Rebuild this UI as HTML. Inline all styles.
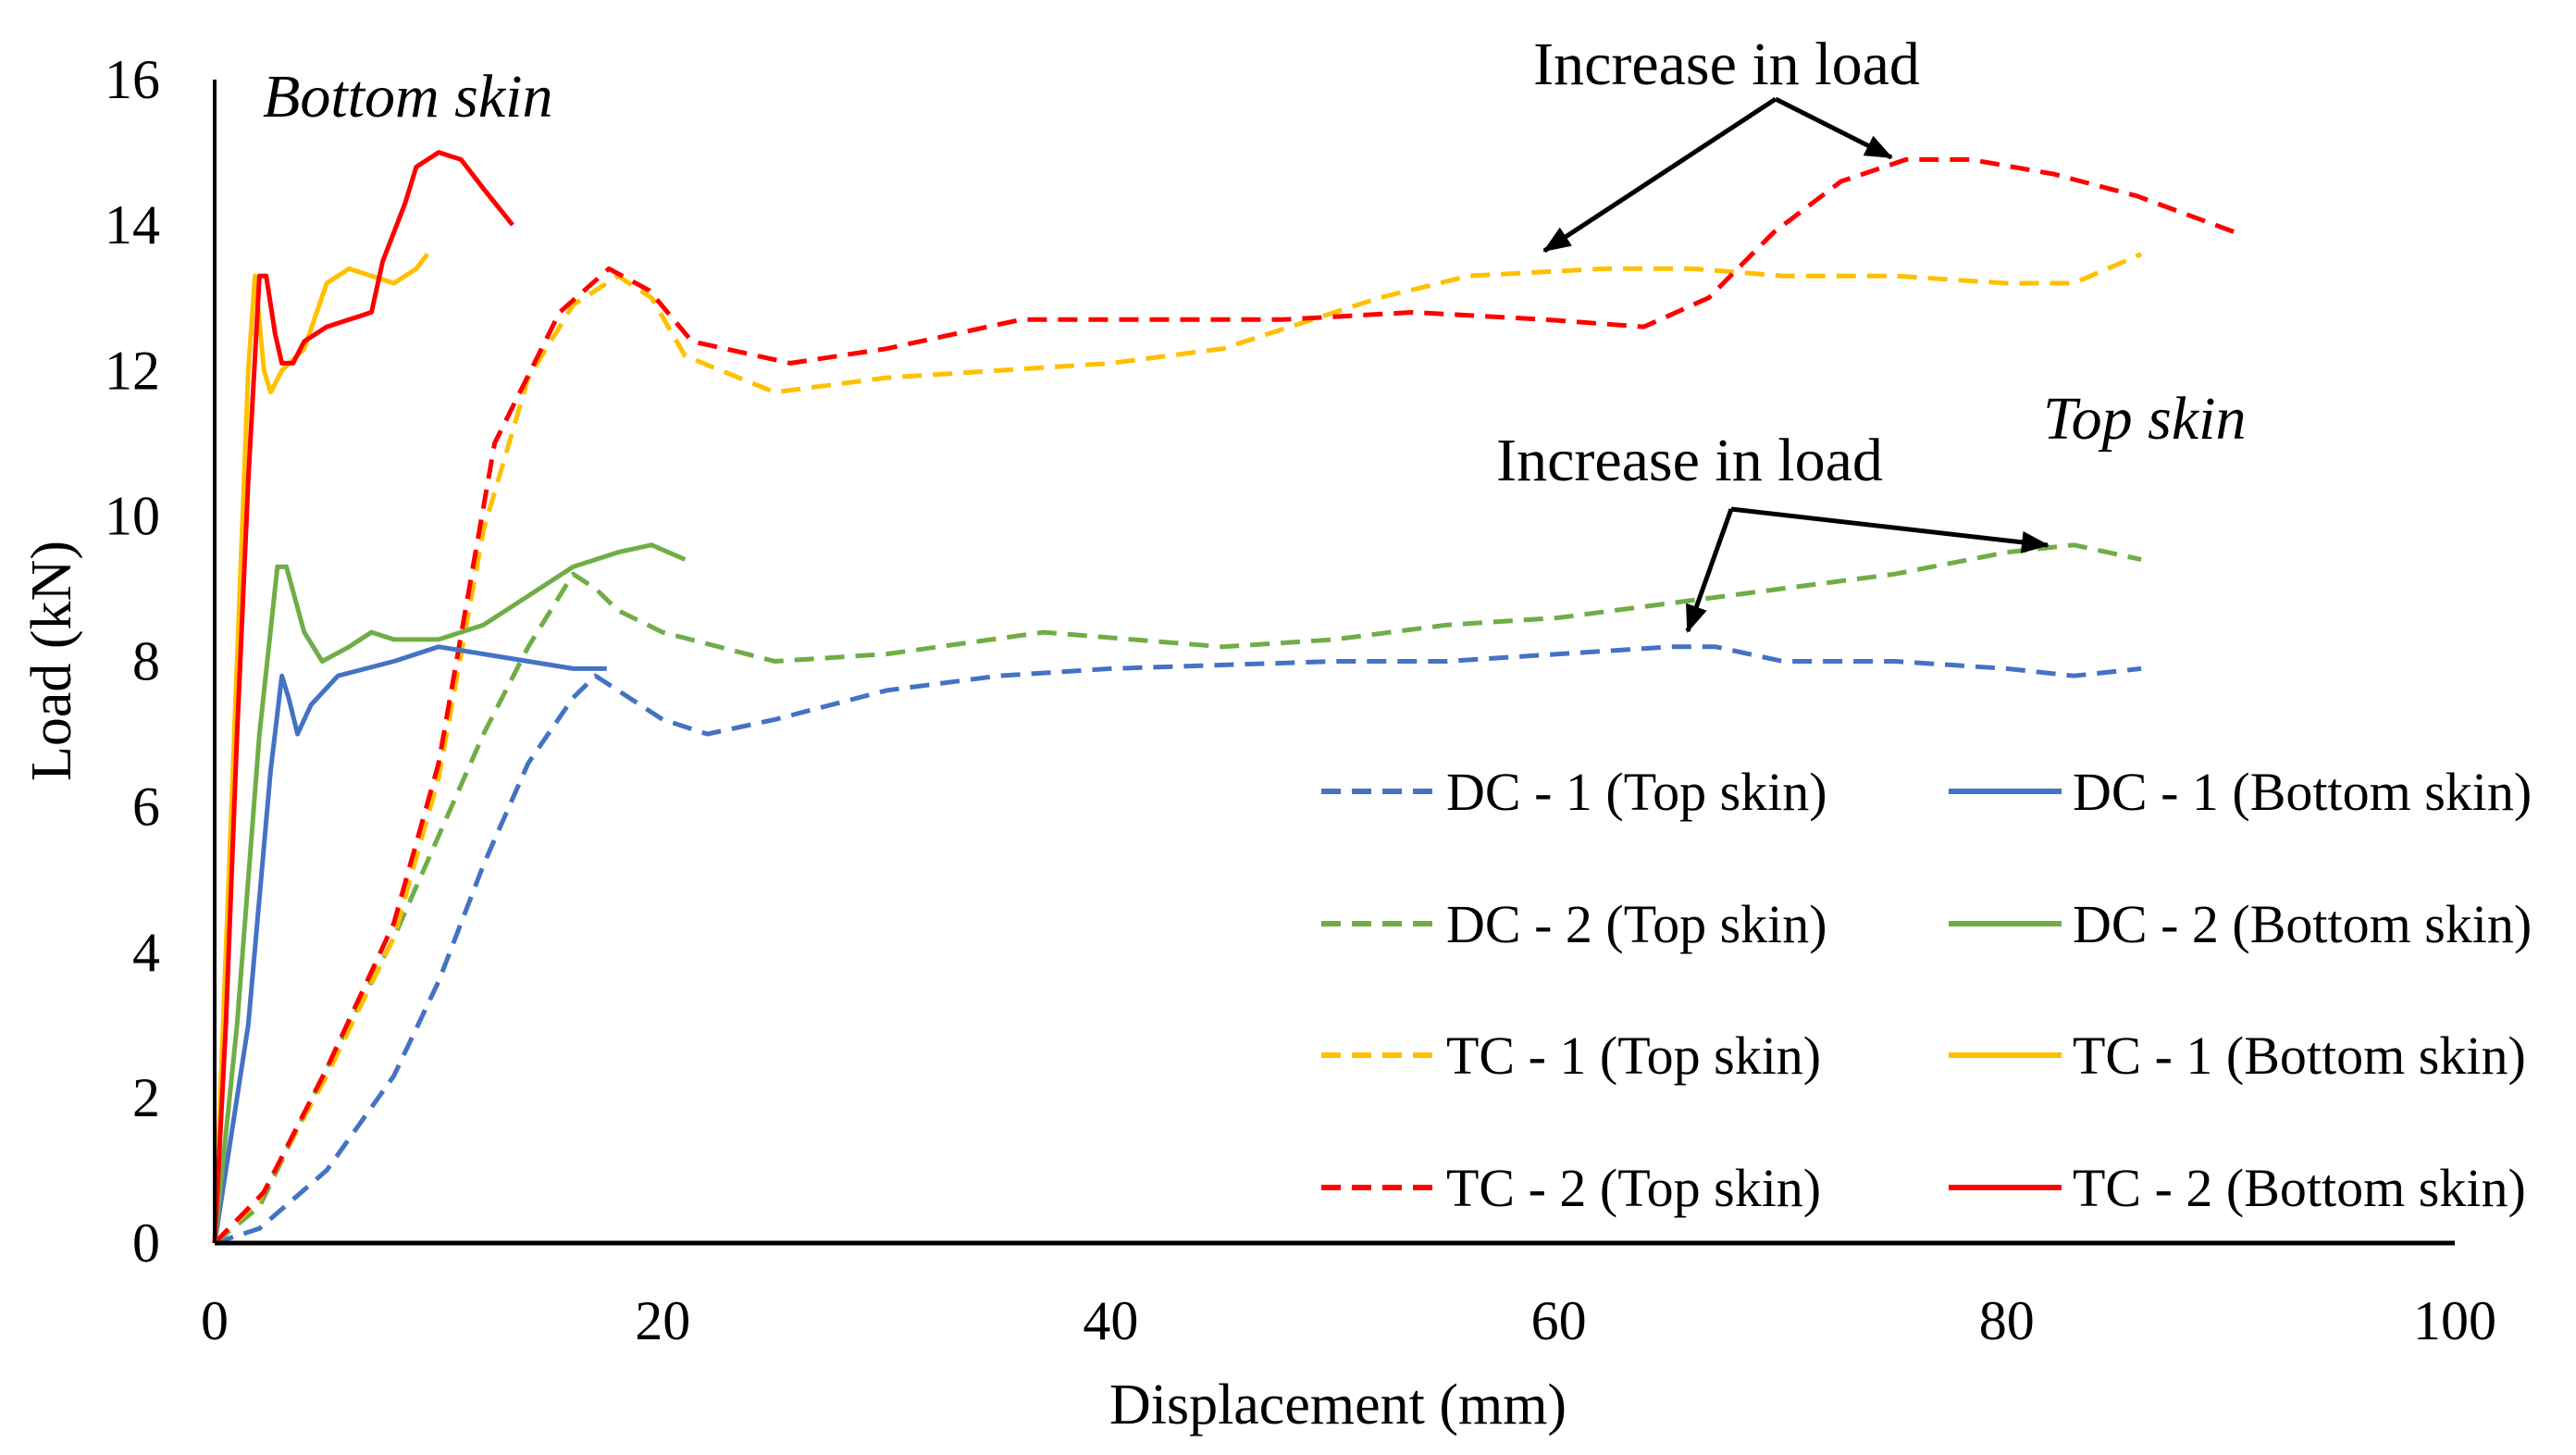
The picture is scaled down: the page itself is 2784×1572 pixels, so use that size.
<!DOCTYPE html>
<html><head><meta charset="utf-8"><style>
html,body{margin:0;padding:0;background:#fff}
svg{display:block;font-family:"Liberation Serif",serif}
</style></head><body>
<svg id="chart" width="2784" height="1572" viewBox="0 0 2784 1572" xmlns="http://www.w3.org/2000/svg">
<defs>
<marker id="ahb" markerWidth="30" markerHeight="24" refX="28" refY="12" orient="auto" markerUnits="userSpaceOnUse"><path d="M0,0 L30,12 L0,24 z" fill="#000"/></marker></defs>
<g id="plot"></g>
</svg>
<script>
const xTicks=[0,20,40,60,80,100];
const yTicks=[0,2,4,6,8,10,12,14,16];
const dc1TopX=[0,2,5,8,10,12,14,16,17,18,20,22,25,30,35,40,50,55,60,65,67,70,75,80,83,86];
const dc1TopY=[0,0.2,1.0,2.3,3.6,5.2,6.6,7.5,7.8,7.6,7.2,7.0,7.2,7.6,7.8,7.9,8.0,8.0,8.1,8.2,8.2,8.0,8.0,7.9,7.8,7.9];
const dc2TopX=[0,2,5,8,10,12,14,16,17,18,20,25,30,37,45,50,55,60,65,70,75,80,83,86];
const dc2TopY=[0,0.5,2.4,4.2,5.6,7.0,8.2,9.2,9.0,8.7,8.4,8.0,8.1,8.4,8.2,8.3,8.5,8.6,8.8,9.0,9.2,9.5,9.6,9.4];
const tc1TopX=[0,2,5,8,10,12,14,16,18,19.5,21,25,30,40,45,48,52,56,62,66,70,75,80,83,86];
const tc1TopY=[0,0.6,2.3,4.2,6.4,9.8,11.9,12.9,13.3,13.0,12.2,11.7,11.9,12.1,12.3,12.6,13.0,13.3,13.4,13.4,13.3,13.3,13.2,13.2,13.6];
const tc2TopX=[0,2.2,5,8,10,12.5,15.4,17.6,19.4,21.3,25.7,30,36,41.8,47.7,53.5,59.4,63.8,66.7,69.6,72.6,75.5,78.4,82.1,85.8,90.2];
const tc2TopY=[0,0.7,2.4,4.4,6.6,11.0,12.8,13.4,13.1,12.4,12.1,12.3,12.7,12.7,12.7,12.8,12.7,12.6,13.0,13.9,14.6,14.9,14.9,14.7,14.4,13.9];
const dc1BotX=[0,1.5,2.5,3,3.3,3.7,4.3,5.5,8,10,12,14,16,17.5];
const dc1BotY=[0,3,6.5,7.8,7.5,7.0,7.4,7.8,8.0,8.2,8.1,8.0,7.9,7.9];
const dc2BotX=[0,1,2,2.8,3.2,4,4.8,6,7,8,10,12,14,16,18,19.5,21];
const dc2BotY=[0,3,7,9.3,9.3,8.4,8.0,8.2,8.4,8.3,8.3,8.5,8.9,9.3,9.5,9.6,9.4];
const tc1BotX=[0,1,1.5,1.8,2.2,2.5,3,4,5,6,7,8,9,9.5];
const tc1BotY=[0,8,12,13.3,12,11.7,12.0,12.3,13.2,13.4,13.3,13.2,13.4,13.6];
const tc2BotX=[0,0.5,1,1.5,2,2.3,2.7,3,3.5,4,5,6,7,7.5,8.5,9,10,11,12,13.3];
const tc2BotY=[0,3,7,10.5,13.3,13.3,12.5,12.1,12.1,12.4,12.6,12.7,12.8,13.5,14.3,14.8,15.0,14.9,14.5,14.0];
const legendLabels=["DC - 1 (Top skin)","DC - 1 (Bottom skin)","DC - 2 (Top skin)","DC - 2 (Bottom skin)","TC - 1 (Top skin)","TC - 1 (Bottom skin)","TC - 2 (Top skin)","TC - 2 (Bottom skin)"];

const X0=232,X1=2653,Y0=1343,Y1=86;
const sx=v=>X0+(v-0)/(100-0)*(X1-X0);
const sy=v=>Y0-(v-0)/(16-0)*(Y0-Y1);
const NS="http://www.w3.org/2000/svg";
const g=document.getElementById('plot');
function mk(tag,attrs,parent){const e=document.createElementNS(NS,tag);for(const k in attrs)e.setAttribute(k,attrs[k]);(parent||g).appendChild(e);return e;}

const blue="#4472C4",green="#70AD47",yellow="#FFC000",red="#FF0000";
const series=[
 [dc1TopX,dc1TopY,blue,true,"dc1-top-line"],[dc2TopX,dc2TopY,green,true,"dc2-top-line"],
 [tc1TopX,tc1TopY,yellow,true,"tc1-top-line"],[tc2TopX,tc2TopY,red,true,"tc2-top-line"],
 [dc1BotX,dc1BotY,blue,false,"dc1-bottom-line"],[dc2BotX,dc2BotY,green,false,"dc2-bottom-line"],
 [tc1BotX,tc1BotY,yellow,false,"tc1-bottom-line"],[tc2BotX,tc2BotY,red,false,"tc2-bottom-line"]];
series.forEach(s=>{
 const d=s[0].map((x,i)=>(i?'L':'M')+sx(x).toFixed(1)+','+sy(s[1][i]).toFixed(1)).join(' ');
 const p=mk('path',{d:d,fill:'none',stroke:s[2],'stroke-width':5,'stroke-linejoin':'round'});
 if(s[3])p.setAttribute('stroke-dasharray','21 12');
 
 
});

const ya=mk('line',{x1:X0,y1:Y1,x2:X0,y2:Y0,stroke:'#000','stroke-width':4});


const xa=mk('line',{x1:X0,y1:Y0,x2:X1,y2:Y0,stroke:'#000','stroke-width':5});


yTicks.forEach(v=>{const t=mk('text',{x:173,y:sy(v)+20,'text-anchor':'end','font-size':60});t.textContent=v;
 
 });
xTicks.forEach(v=>{const t=mk('text',{x:sx(v),y:1447,'text-anchor':'middle','font-size':60});t.textContent=v;
 
 });
let t=mk('text',{x:1446,y:1538,'text-anchor':'middle','font-size':62});t.textContent='Displacement (mm)';


t=mk('text',{x:0,y:0,'text-anchor':'middle','font-size':62,transform:'translate(76,714) rotate(-90)'});t.textContent='Load (kN)';


t=mk('text',{x:284,y:126,'font-size':66,'font-style':'italic'});t.textContent='Bottom skin';


t=mk('text',{x:2208,y:474,'font-size':66,'font-style':'italic'});t.textContent='Top skin';


t=mk('text',{x:1866,y:91,'text-anchor':'middle','font-size':66});t.textContent='Increase in load';


t=mk('text',{x:1826,y:519,'text-anchor':'middle','font-size':66});t.textContent='Increase in load';


[[1919,107,1669,271],[1919,107,2044,170],[1871,550,1824,682],[1871,550,2213,589]].forEach(a=>{
 const l=mk('line',{x1:a[0],y1:a[1],x2:a[2],y2:a[3],stroke:'#000','stroke-width':5,'marker-end':'url(#ahb)'});
 
 
});
const legCols=[[1428,1563],[2106,2240]],legRows=[855,998,1140,1283];
const legColors=[blue,blue,green,green,yellow,yellow,red,red];
legendLabels.forEach((lab,i)=>{
 const c=legCols[i%2],r=legRows[Math.floor(i/2)];
 const ge=mk('g',{});
 
 
 const ln=mk('line',{x1:c[0],y1:r,x2:c[0]+122,y2:r,stroke:legColors[i],'stroke-width':6},ge);
 if(i%2===0)ln.setAttribute('stroke-dasharray','21 12');
 const tx=mk('text',{x:c[1],y:r+20,'font-size':58},ge);tx.textContent=lab;
});
</script>
</body></html>
